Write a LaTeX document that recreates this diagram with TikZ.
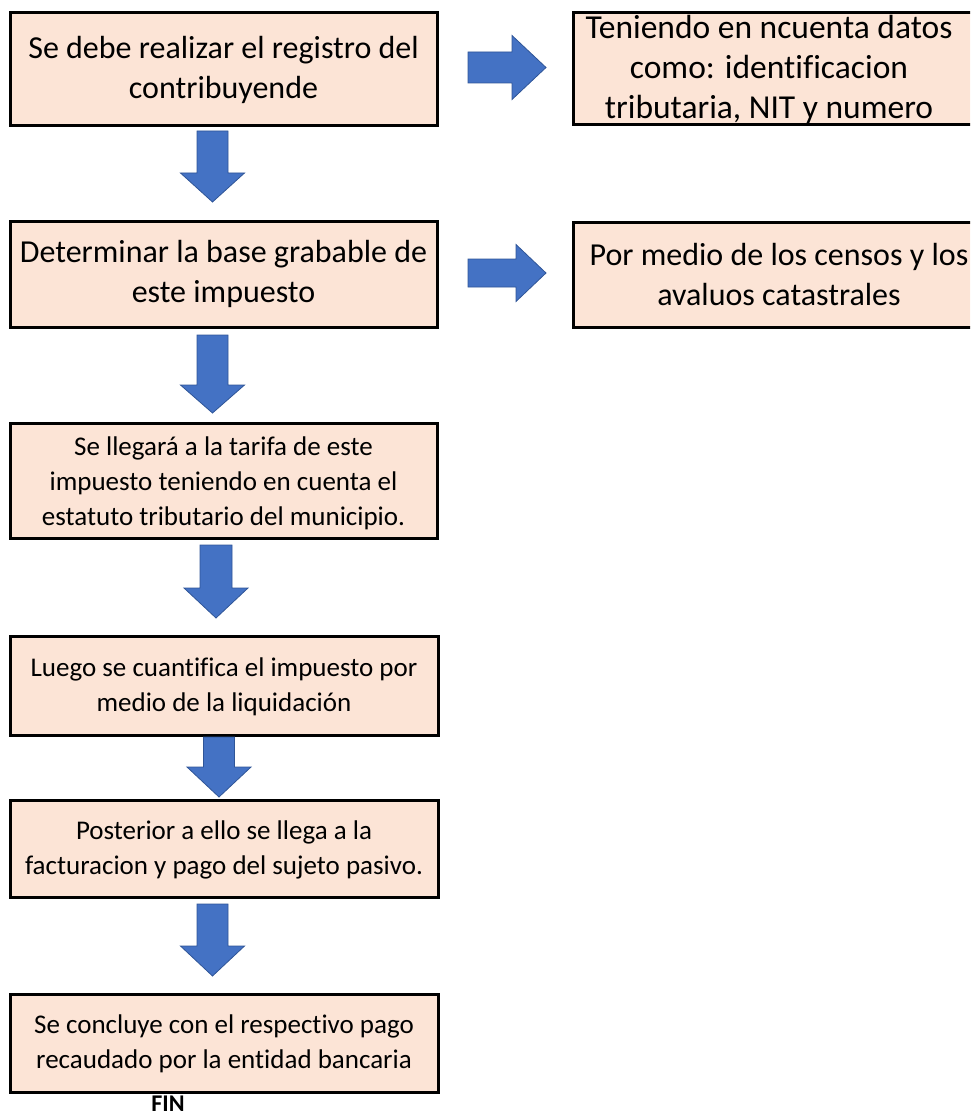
\documentclass[tikz,border=0pt]{standalone}
\usepackage{fontspec}
\setmainfont{Carlito}[RawFeature=-liga, RawFeature=-clig, RawFeature=-calt, RawFeature=-dlig]
\usetikzlibrary{fit}
\definecolor{boxfill}{HTML}{FCE4D6}
\definecolor{arrfill}{HTML}{4472C4}
\definecolor{arrline}{HTML}{2F5597}
\tikzset{
  box/.style={draw=black, line width=3pt, fill=boxfill, rectangle, inner sep=0pt},
  bigtxt/.style={font=\fontsize{32}{40}\selectfont, align=center, inner sep=0pt},
  smalltxt/.style={font=\fontsize{27}{35}\selectfont, align=center, inner sep=0pt},
  barrow/.style={fill=arrfill, draw=arrline, line width=0.8pt, line join=miter},
}
% #1 cx, #2 shaft half, #3 head half, #4 top, #5 head start, #6 tip
\newcommand\myDownArrow[6]{%
  \draw[barrow] ({#1-#2},#4) -- ({#1+#2},#4) -- ({#1+#2},#5) -- ({#1+#3},#5)
    -- (#1,#6) -- ({#1-#3},#5) -- ({#1-#2},#5) -- cycle;}
% #1 cy, #2 shaft half, #3 head half, #4 left, #5 head start, #6 tip
\newcommand\myRightArrow[6]{%
  \draw[barrow] (#4,{#1-#2}) -- (#5,{#1-#2}) -- (#5,{#1-#3}) -- (#6,#1)
    -- (#5,{#1+#3}) -- (#5,{#1+#2}) -- (#4,{#1+#2}) -- cycle;}
\begin{document}
\begin{tikzpicture}[x=1pt,y=-1pt]
\useasboundingbox (0,0) rectangle (970,1118);
\clip (0,0) rectangle (970,1118);

% boxes
\node[box, fit={(10,13) (437,126)}] (b1) {};
\node[box, fit={(10,221) (437,327)}] (b2) {};
\node[box, fit={(10,423) (437,538)}] (b3) {};
\node[box, fit={(10,636) (438,735)}] (b4) {};
\node[box, fit={(10,800) (438,897)}] (b5) {};
\node[box, fit={(10,994) (438,1092)}] (b6) {};
\node[box, fit={(573,13) (990,125)}] (r1) {};
\node[box, fit={(573,222) (990,327)}] (r2) {};

% texts
\node[bigtxt] (t1) at (223.5,69.5) {Se debe realizar el registro del\\contribuyende};
\node[bigtxt] (t2) at (223.5,274) {Determinar la base grabable de\\este impuesto};
\node[smalltxt] (t3) at (223.5,483) {Se llegará a la tarifa de este\\impuesto teniendo en cuenta el\\estatuto tributario del municipio.};
\node[smalltxt] (t4) at (224,686.5) {Luego se cuantifica el impuesto por\\medio de la liquidación};
\node[smalltxt] (t5) at (224,849.5) {Posterior a ello se llega a la\\facturacion y pago del sujeto pasivo.};
\node[smalltxt] (t6) at (224,1044) {Se concluye con el respectivo pago\\recaudado por la entidad bancaria};
\node[bigtxt, font=\fontsize{33.5}{40}\selectfont] (tr1) at (769,70) {Teniendo en ncuenta datos\\como: identificacion\\tributaria, NIT y numero};
\node[bigtxt] (tr2) at (779,274.5) {Por medio de los censos y los\\avaluos catastrales};
\node[font=\fontsize{24}{28}\selectfont\bfseries, inner sep=0pt] (fin) at (168,1104) {FIN};

% block arrows
\myRightArrow{67.5}{15.5}{32}{468}{512}{546}
\myRightArrow{273}{14}{28.5}{468}{516}{546}
\myDownArrow{212.5}{15.5}{32}{131}{173}{202}
\myDownArrow{212.5}{15.5}{32}{335}{385}{413}
\myDownArrow{216}{16}{32}{545}{588}{618}
\myDownArrow{219}{15.5}{32}{737}{767}{797}
\myDownArrow{212.5}{15.5}{32}{904}{946}{976}
\end{tikzpicture}
\end{document}
